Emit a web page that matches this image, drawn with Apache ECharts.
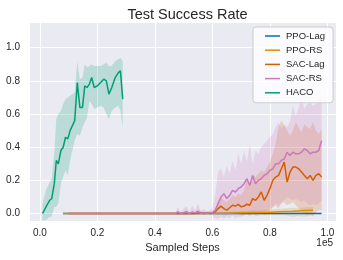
<!DOCTYPE html>
<html><head><meta charset="utf-8">
<script src="https://cdn.jsdelivr.net/npm/echarts@6/dist/echarts.min.js"></script>
<style>html,body{margin:0;padding:0;background:#fff}#c{width:343px;height:260px}</style>
</head><body><div id="c"></div>
<script>
// ---- data (x in units of 1e5 sampled steps) ----
const seriesNames = ['PPO-Lag', 'PPO-RS', 'SAC-Lag', 'SAC-RS', 'HACO'];
const xTickValues = [0.0, 0.2, 0.4, 0.6, 0.8, 1.0];
const yTickValues = [0.0, 0.2, 0.4, 0.6, 0.8, 1.0];

const hacoX = [0.009,0.021,0.034,0.041,0.050,0.057,0.064,0.073,0.081,0.089,0.097,0.105,0.113,0.121,0.130,0.139,0.148,0.156,0.164,0.172,0.180,0.189,0.200,0.211,0.222,0.231,0.240,0.250,0.262,0.273,0.280,0.288];
const hacoMean = [0.00,0.04,0.08,0.09,0.18,0.32,0.30,0.38,0.40,0.46,0.45,0.50,0.53,0.56,0.79,0.64,0.64,0.77,0.76,0.78,0.82,0.76,0.77,0.79,0.81,0.80,0.72,0.76,0.82,0.85,0.86,0.69];
const hacoLow = [-0.04,-0.04,-0.02,-0.02,0.04,0.04,0.06,0.18,0.22,0.26,0.23,0.32,0.38,0.44,0.48,0.47,0.52,0.55,0.58,0.68,0.66,0.63,0.64,0.65,0.64,0.60,0.57,0.62,0.64,0.65,0.62,0.52];
const hacoHigh = [0.06,0.14,0.19,0.21,0.37,0.57,0.60,0.62,0.66,0.69,0.70,0.71,0.72,0.73,0.92,0.81,0.82,0.90,0.88,0.89,0.90,0.89,0.89,0.89,0.90,0.91,0.89,0.89,0.92,0.93,0.94,0.92];

const sacX = [0.10,
  0.47,0.48,0.49,0.50,
  0.51,0.52,0.53,0.54,0.55,0.56,0.57,0.58,0.59,0.60,
  0.61,0.62,0.63,0.64,0.65,0.66,0.67,0.68,0.69,0.70,
  0.71,0.72,0.73,0.74,0.75,0.76,0.77,0.78,0.79,0.80,
  0.81,0.82,0.83,0.84,0.85,0.86,0.87,0.88,0.89,0.90,
  0.91,0.92,0.93,0.94,0.95,0.96,0.97,0.98];

const sacRsMean = [0,
  0,0.01,0,0.005,
  0.012,0,0.01,0.004,0.015,0,0.006,0,0.004,0.006,
  0.02,0.06,0.10,0.12,0.09,0.11,0.14,0.13,0.15,0.16,
  0.18,0.21,0.17,0.23,0.18,0.20,0.21,0.23,0.24,0.26,
  0.27,0.30,0.30,0.32,0.33,0.37,0.35,0.37,0.36,0.36,
  0.37,0.39,0.38,0.36,0.37,0.37,0.38,0.44];
const sacRsHigh = [0,
  0,0.04,0.01,0.03,
  0.045,0.01,0.05,0.02,0.06,0.01,0.03,0.01,0.02,0.03,
  0.12,0.25,0.27,0.22,0.29,0.24,0.32,0.26,0.36,0.30,
  0.38,0.31,0.42,0.30,0.38,0.36,0.40,0.42,0.44,0.46,
  0.48,0.52,0.55,0.51,0.54,0.52,0.56,0.65,0.59,0.64,
  0.69,0.63,0.66,0.67,0.65,0.66,0.70,0.70];
const sacRsLow = [0,
  0,-0.01,-0.005,-0.01,
  -0.01,-0.005,-0.01,-0.005,-0.01,-0.005,-0.01,-0.005,-0.01,-0.01,
  -0.03,-0.03,-0.02,-0.03,-0.02,-0.03,-0.01,-0.03,-0.02,-0.02,
  -0.01,0.0,-0.02,0.01,-0.02,-0.01,0.0,0.01,0.02,0.03,
  0.04,0.06,0.05,0.07,0.08,0.10,0.09,0.08,0.09,0.08,
  0.07,0.08,0.06,0.05,0.06,0.05,0.06,0.08];

const sacLagMean = [0,
  0,0,0,0,
  0.002,0,0,0,0.003,0.005,0,0.004,0.002,0.004,
  0.01,0.03,0.045,0.03,0.02,0.035,0.05,0.045,0.055,0.04,
  0.045,0.056,0.05,0.09,0.08,0.10,0.13,0.08,0.11,0.15,
  0.20,0.22,0.23,0.27,0.31,0.19,0.25,0.28,0.28,0.27,
  0.25,0.23,0.21,0.23,0.20,0.23,0.24,0.22];
const sacLagHigh = [0,
  0,0,0,0,
  0.01,0,0,0,0.015,0.02,0,0.015,0.01,0.015,
  0.03,0.08,0.10,0.08,0.07,0.09,0.11,0.10,0.12,0.11,
  0.14,0.21,0.18,0.23,0.22,0.24,0.26,0.25,0.28,0.31,
  0.36,0.42,0.52,0.56,0.53,0.50,0.47,0.50,0.55,0.52,
  0.49,0.54,0.52,0.51,0.55,0.50,0.48,0.51];
const sacLagLow = [0,
  0,0,0,0,
  -0.005,0,0,0,-0.005,-0.005,0,-0.005,-0.005,-0.005,
  -0.005,-0.01,-0.005,-0.01,-0.01,-0.005,0.0,-0.005,0.0,-0.01,
  -0.01,-0.005,-0.01,0.0,-0.005,0.0,0.01,-0.01,0.0,0.01,
  0.04,0.05,0.03,0.06,0.07,0.05,0.06,0.07,0.05,0.03,
  0.02,0.0,-0.01,0.0,-0.02,0.01,0.02,0.02];

const ppoRsX = [0.08,0.60,0.65,0.70,0.75,0.80,0.85,0.88,0.90,0.92,0.95];
const ppoRsMean = [0,0,0.002,0.004,0.006,0.008,0.012,0.014,0.016,0.018,0.02];
const ppoRsLow = [0,0,-0.005,-0.008,-0.01,-0.01,-0.01,-0.02,-0.015,-0.02,-0.01];
const ppoRsHigh = [0,0,0.01,0.015,0.02,0.025,0.03,0.035,0.032,0.036,0.04];

const ppoLagX = [0.08,0.60,0.70,0.80,0.90,0.98];
const ppoLagMean = [0,0,0,0,0,0];
const ppoLagLow = [0,0,-0.002,-0.002,-0.002,-0.002];
const ppoLagHigh = [0,0,0.002,0.002,0.002,0.002];

const colors = {'PPO-Lag':'#0173b2','PPO-RS':'#de8f05','SAC-Lag':'#d55e00','SAC-RS':'#cc78bc','HACO':'#029e73'};
const bandFill = {'PPO-Lag':'rgba(1,115,178,0.2)','PPO-RS':'rgba(222,143,5,0.2)','SAC-Lag':'rgba(213,94,0,0.2)','SAC-RS':'rgba(204,120,188,0.2)','HACO':'rgba(2,158,115,0.2)'};

// ---- chart ----
const FONT = '"Liberation Sans", Arial, sans-serif';
const TXT = '#262626';

function band(name, xs, lo, hi) {
  return {
    type: 'custom', name: name + ' band', silent: true, clip: true,
    data: xs.map((x, i) => [x, lo[i], hi[i]]),
    encode: { x: 0, y: [1, 2] },
    renderItem: function (params, api) {
      if (params.dataIndex !== 0) return;
      const pts = [];
      for (let i = 0; i < xs.length; i++) pts.push(api.coord([xs[i], hi[i]]));
      for (let i = xs.length - 1; i >= 0; i--) pts.push(api.coord([xs[i], lo[i]]));
      return { type: 'polygon', shape: { points: pts }, style: { fill: bandFill[name], stroke: null } };
    }
  };
}
function line(name, xs, m) {
  return {
    type: 'line', name: name, data: xs.map((x, i) => [x, m[i]]),
    showSymbol: false, symbol: 'none', clip: true,
    lineStyle: { width: 1.5, color: colors[name] }, itemStyle: { color: colors[name] }
  };
}
const groups = [
  ['PPO-Lag', ppoLagX, ppoLagMean, ppoLagLow, ppoLagHigh],
  ['PPO-RS', ppoRsX, ppoRsMean, ppoRsLow, ppoRsHigh],
  ['SAC-Lag', sacX, sacLagMean, sacLagLow, sacLagHigh],
  ['SAC-RS', sacX, sacRsMean, sacRsLow, sacRsHigh],
  ['HACO', hacoX, hacoMean, hacoLow, hacoHigh]
];
const series = [];
groups.forEach(g => { series.push(band(g[0], g[1], g[3], g[4])); series.push(line(g[0], g[1], g[2])); });

function tickFmt(list) {
  return v => list.some(t => Math.abs(t - v) < 1e-6) ? v.toFixed(1) : '';
}

const chart = echarts.init(document.getElementById('c'), null, { renderer: 'canvas' });
chart.setOption({
  animation: false,
  textStyle: { fontFamily: FONT },
  title: {
    text: 'Test Success Rate', left: 182.5, top: 2, textAlign: 'center',
    textStyle: { fontSize: 14.5, fontWeight: 'normal', color: TXT, fontFamily: FONT }
  },
  grid: { left: 29, right: 7, top: 22, bottom: 39, show: true, backgroundColor: '#eaeaf2', borderWidth: 0 },
  legend: {
    data: seriesNames, orient: 'vertical', left: 253, top: 27,
    icon: 'rect', itemWidth: 15, itemHeight: 1.5, itemGap: 0.2,
    padding: [2, 8, 3, 12],
    backgroundColor: 'rgba(255,255,255,0.8)', borderColor: '#cccccc', borderWidth: 1, borderRadius: 3,
    textStyle: { fontSize: 9.5, color: TXT, fontFamily: FONT, lineHeight: 14, padding: [0, 0, 0, 1] },
    selectedMode: false
  },
  xAxis: {
    type: 'value', min: -0.038, max: 1.03, splitNumber: 5,
    axisLine: { show: false }, axisTick: { show: false },
    splitLine: { lineStyle: { color: '#ffffff', width: 1 } },
    axisLabel: { formatter: tickFmt(xTickValues), color: TXT, fontSize: 10, margin: 7, fontFamily: FONT },
    name: 'Sampled Steps', nameLocation: 'middle', nameGap: 20,
    nameTextStyle: { fontSize: 11, color: TXT, fontFamily: FONT }
  },
  yAxis: {
    type: 'value', min: -0.045, max: 1.155, splitNumber: 5,
    axisLine: { show: false }, axisTick: { show: false },
    splitLine: { lineStyle: { color: '#ffffff', width: 1 } },
    axisLabel: { formatter: tickFmt(yTickValues), color: TXT, fontSize: 10, margin: 9, fontFamily: FONT }
  },
  graphic: [{
    type: 'text', x: 333, y: 243,
    style: { text: '1e5', fill: TXT, fontSize: 10, fontFamily: FONT, align: 'right', verticalAlign: 'middle' }
  }],
  series: series
});
</script></body></html>
